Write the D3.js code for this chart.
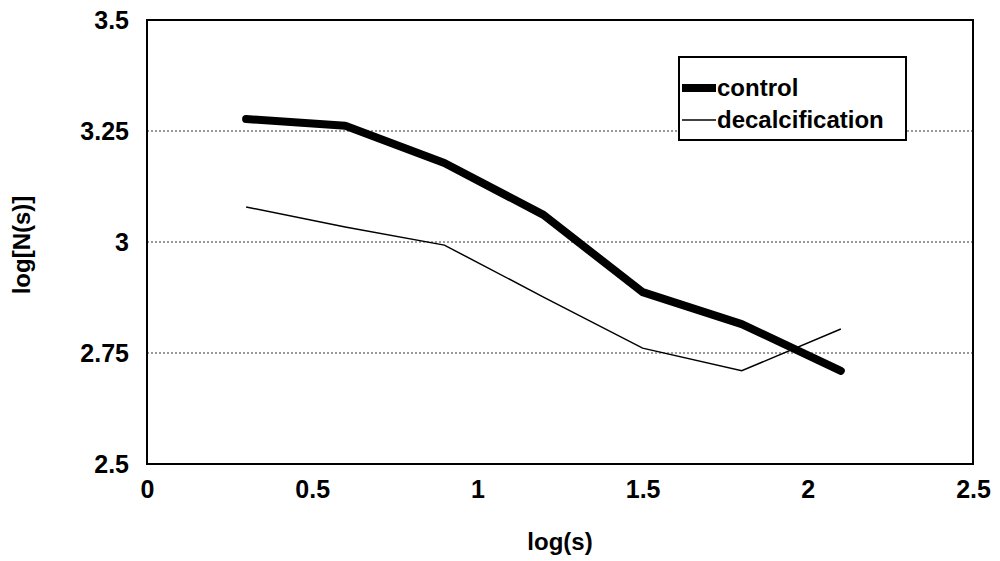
<!DOCTYPE html>
<html>
<head>
<meta charset="utf-8">
<script src="https://cdn.jsdelivr.net/npm/d3@7"></script>
<style>
  body { margin: 0; background: #fff; }
  text { font-family: "Liberation Sans", Arial, sans-serif; fill: #000; font-weight: bold; }
</style>
</head>
<body>
<script>
var logS = [0.3, 0.6, 0.9, 1.2, 1.5, 1.8, 2.1];
var control = [3.277, 3.262, 3.178, 3.061, 2.887, 2.815, 2.71];
var decalcification = [3.079, 3.034, 2.993, 2.876, 2.761, 2.71, 2.804];
var xTicks = [0, 0.5, 1, 1.5, 2, 2.5];
var yTicks = [2.5, 2.75, 3, 3.25, 3.5];
var yTickLabels = ["2.5", "2.75", "3", "3.25", "3.5"];

var width = 1000, height = 561;
var margin = {top: 20, right: 27, bottom: 97, left: 147};

var x = d3.scaleLinear().domain([0, 2.5]).range([margin.left, width - margin.right]);
var y = d3.scaleLinear().domain([2.5, 3.5]).range([height - margin.bottom, margin.top]);

var svg = d3.select("body").append("svg")
    .attr("width", width)
    .attr("height", height);

// dotted gridlines
svg.append("g")
  .selectAll("line")
    .data([2.75, 3, 3.25])
  .enter().append("line")
    .attr("x1", x(0)).attr("x2", x(2.5))
    .attr("y1", function(d) { return y(d); })
    .attr("y2", function(d) { return y(d); })
    .attr("stroke", "#333")
    .attr("stroke-width", 1)
    .attr("stroke-dasharray", "2,2");

// tick labels via axes, no tick marks
svg.append("g")
    .attr("transform", "translate(0," + (y(2.5) + 8) + ")")
    .call(d3.axisBottom(x).tickValues(xTicks).tickSize(0).tickPadding(8).tickFormat(d3.format("")))
    .call(function(g) { g.select(".domain").remove(); })
    .selectAll("text")
    .style("font-size", "25px");

svg.append("g")
    .attr("transform", "translate(" + (x(0) - 8) + ",0)")
    .call(d3.axisLeft(y).tickValues(yTicks).tickSize(0).tickPadding(10)
      .tickFormat(function(d, i) { return yTickLabels[i]; }))
    .call(function(g) { g.select(".domain").remove(); })
    .selectAll("text")
    .style("font-size", "25px");

// lines
var line = d3.line()
    .x(function(d) { return x(d[0]); })
    .y(function(d) { return y(d[1]); });

svg.append("path")
    .datum(d3.zip(logS, decalcification))
    .attr("d", line)
    .attr("fill", "none")
    .attr("stroke", "#000")
    .attr("stroke-width", 1.5);

svg.append("path")
    .datum(d3.zip(logS, control))
    .attr("d", line)
    .attr("fill", "none")
    .attr("stroke", "#000")
    .attr("stroke-width", 8)
    .attr("stroke-linecap", "round")
    .attr("stroke-linejoin", "round");

// plot frame
svg.append("rect")
    .attr("x", x(0)).attr("y", y(3.5))
    .attr("width", x(2.5) - x(0))
    .attr("height", y(2.5) - y(3.5))
    .attr("fill", "none")
    .attr("stroke", "#000")
    .attr("stroke-width", 2);

// legend
var legend = svg.append("g").attr("transform", "translate(679,57)");
legend.append("rect")
    .attr("width", 227).attr("height", 83)
    .attr("fill", "#fff")
    .attr("stroke", "#000")
    .attr("stroke-width", 2);

var legendItems = [
  {name: "control", w: 8, y: 31},
  {name: "decalcification", w: 1.5, y: 63}
];
legend.selectAll("line")
    .data(legendItems)
  .enter().append("line")
    .attr("x1", 3).attr("x2", 37)
    .attr("y1", function(d) { return d.y; })
    .attr("y2", function(d) { return d.y; })
    .attr("stroke", "#000")
    .attr("stroke-width", function(d) { return d.w; });
legend.selectAll("text")
    .data(legendItems)
  .enter().append("text")
    .attr("x", 38)
    .attr("y", function(d) { return d.y + 8; })
    .style("font-size", "24px")
    .text(function(d) { return d.name; });

// axis titles
svg.append("text")
    .attr("x", (x(0) + x(2.5)) / 2)
    .attr("y", 550)
    .attr("text-anchor", "middle")
    .style("font-size", "24px")
    .text("log(s)");

svg.append("text")
    .attr("transform", "translate(30," + 245 + ")rotate(-90)")
    .attr("text-anchor", "middle")
    .style("font-size", "24px")
    .text("log[N(s)]");
</script>
</body>
</html>
